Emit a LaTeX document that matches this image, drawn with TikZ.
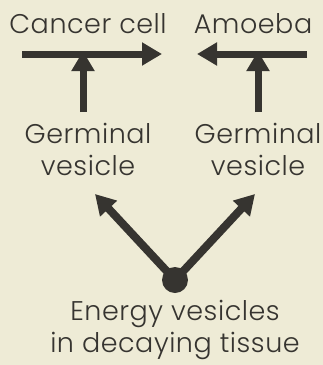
\documentclass[tikz,border=0pt]{standalone}
\usepackage{fontspec}
\setmainfont{Poppins Light}[LetterSpace=2]
\usetikzlibrary{arrows.meta}
\definecolor{paper}{HTML}{EEEBD6}
\definecolor{ink}{HTML}{363430}
\tikzset{
  lbl/.style={ink,inner sep=0pt,align=center,font=\fontsize{27}{32}\selectfont},
  fat/.style={ink,line width=7pt,-{Triangle[width=22pt,length=20pt]}},
}
\begin{document}
\begin{tikzpicture}[x=1pt,y=-1pt]
\fill[paper] (0,0) rectangle (323,365);
\useasboundingbox (0,0) rectangle (323,365);
% labels
\node[lbl,anchor=base] (cancer) at (88,33) {Cancer cell};
\node[lbl,anchor=base] (amoeba) at (253,33) {Amoeba};
\node[lbl,anchor=base] (germl) at (88,175) {Germinal\\vesicle};
\node[lbl,anchor=base] (germr) at (258,175) {Germinal\\vesicle};
\node[lbl,anchor=base] (energy) at (175,352) {Energy vesicles\\in decaying tissue};
\node[ink,fill,circle,inner sep=0pt,minimum size=26pt] (src) at (175,280) {};
% arrows
\coordinate (hl1) at (22,54);
\coordinate (hl2) at (162,54);
\coordinate (hr1) at (307,54);
\coordinate (hr2) at (197,54);
\coordinate (vl) at (83,112);
\coordinate (vr) at (258,112);
\coordinate (tipl) at (95,194);
\coordinate (tipr) at (255,194);
\draw[fat] (hl1) -- (hl2);
\draw[fat] (hr1) -- (hr2);
\draw[fat] (vl) -- ([yshift=3pt]vl |- hl1);
\draw[fat] (vr) -- ([yshift=3pt]vr |- hr1);
\draw[fat,line width=8pt] (src.center) -- (tipl);
\draw[fat,line width=8pt] (src.center) -- (tipr);
\end{tikzpicture}
\end{document}
